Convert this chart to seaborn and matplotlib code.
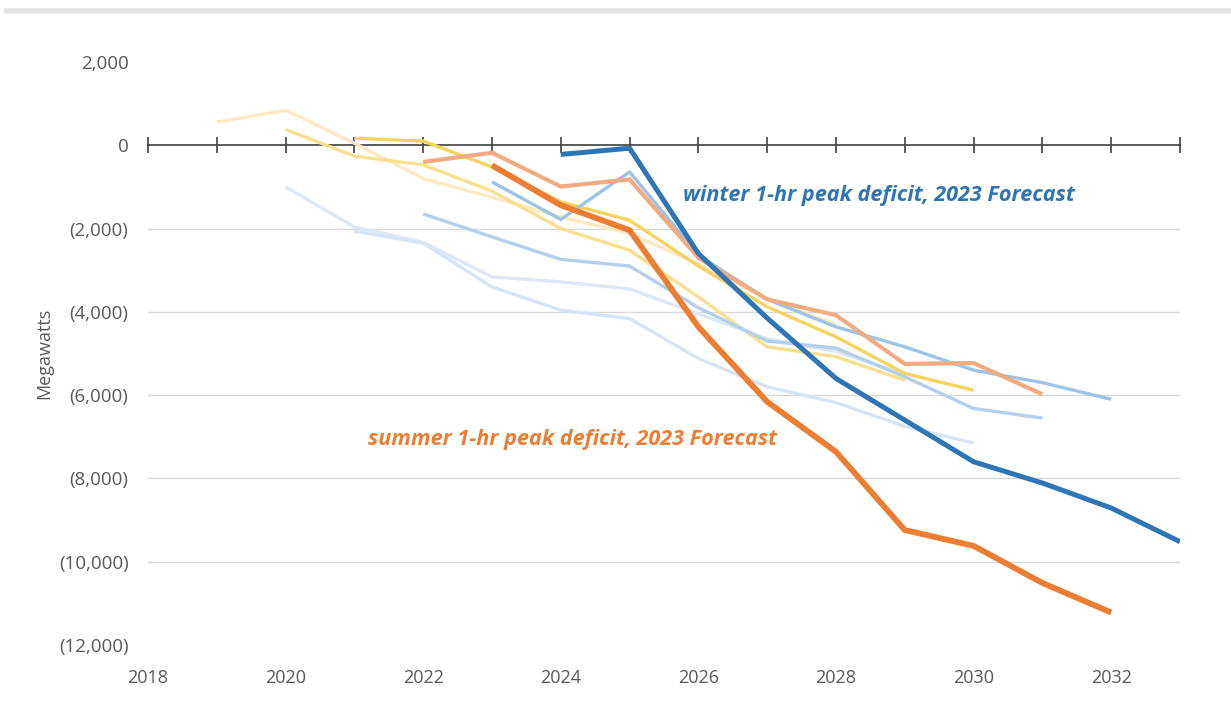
import matplotlib
matplotlib.use("Agg")
import matplotlib.pyplot as plt
import matplotlib.ticker as mticker
from matplotlib.lines import Line2D
import numpy as np
import pandas as pd
import seaborn as sns

# ---------------- data ----------------
years_s19 = [2019, 2020, 2021, 2022, 2023, 2024, 2025, 2026, 2027, 2028]
summer_2019 = [560, 840, 50, -800, -1250, -1720, -2120, -2850, -3700, -4300]

years_s20 = [2020, 2021, 2022, 2023, 2024, 2025, 2026, 2027, 2028, 2029]
summer_2020 = [380, -260, -470, -1100, -2000, -2520, -3640, -4840, -5080, -5640]

years_s21 = [2021, 2022, 2023, 2024, 2025, 2026, 2027, 2028, 2029, 2030]
summer_2021 = [170, 100, -520, -1360, -1800, -2900, -3880, -4600, -5480, -5880]

years_s22 = [2022, 2023, 2024, 2025, 2026, 2027, 2028, 2029, 2030, 2031]
summer_2022 = [-400, -180, -990, -820, -2700, -3700, -4080, -5250, -5230, -5980]

years_s23 = [2023, 2024, 2025, 2026, 2027, 2028, 2029, 2030, 2031, 2032]
summer_2023 = [-480, -1440, -2040, -4360, -6160, -7360, -9240, -9620, -10510, -11220]

years_w19 = [2020, 2021, 2022, 2023, 2024, 2025, 2026, 2027, 2028, 2029]
winter_2019 = [-1000, -1960, -2330, -3160, -3280, -3450, -4050, -4650, -4950, -5500]

years_w20 = [2021, 2022, 2023, 2024, 2025, 2026, 2027, 2028, 2029, 2030]
winter_2020 = [-2060, -2350, -3400, -3960, -4160, -5120, -5800, -6180, -6750, -7150]

years_w21 = [2022, 2023, 2024, 2025, 2026, 2027, 2028, 2029, 2030, 2031]
winter_2021 = [-1650, -2200, -2740, -2900, -3900, -4700, -4870, -5560, -6320, -6550]

years_w22 = [2023, 2024, 2025, 2026, 2027, 2028, 2029, 2030, 2031, 2032]
winter_2022 = [-880, -1780, -640, -2640, -3700, -4360, -4840, -5400, -5700, -6100]

years_w23 = [2024, 2025, 2026, 2027, 2028, 2029, 2030, 2031, 2032, 2033]
winter_2023 = [-220, -70, -2600, -4150, -5600, -6600, -7600, -8110, -8710, -9520]

series = [
    ("Summer 2019", years_s19, summer_2019),
    ("Winter 2019", years_w19, winter_2019),
    ("Winter 2020", years_w20, winter_2020),
    ("Summer 2020", years_s20, summer_2020),
    ("Winter 2021", years_w21, winter_2021),
    ("Summer 2021", years_s21, summer_2021),
    ("Winter 2022", years_w22, winter_2022),
    ("Summer 2022", years_s22, summer_2022),
    ("Summer 2023", years_s23, summer_2023),
    ("Winter 2023", years_w23, winter_2023),
]

palette = {
    "Summer 2019": "#FCEAC0",
    "Summer 2020": "#F9E08F",
    "Summer 2021": "#F6D25E",
    "Summer 2022": "#F2AA80",
    "Summer 2023": "#ED7D31",
    "Winter 2019": "#DCE8F5",
    "Winter 2020": "#D6E4F3",
    "Winter 2021": "#B4CFEB",
    "Winter 2022": "#9DC3E6",
    "Winter 2023": "#2E75B6",
}
widths = {k: 2.4 for k in palette}
widths["Summer 2023"] = 4.2
widths["Winter 2023"] = 3.6
widths["Summer 2022"] = 3.0

winter_label = "winter 1-hr peak deficit, 2023 Forecast"
summer_label = "summer 1-hr peak deficit, 2023 Forecast"

frames = []
for name, yrs, vals in series:
    frames.append(pd.DataFrame({"year": yrs, "mw": vals, "series": name}))
df = pd.concat(frames, ignore_index=True)
order = [s[0] for s in series]

# ---------------- plot ----------------
sns.set_theme(style="white")
plt.rcParams["font.family"] = ["Open Sans", "DejaVu Sans"]

fig = plt.figure(figsize=(12.31, 7.09), dpi=100)
ax = fig.add_axes([148 / 1231, 1 - 645 / 709, (1180 - 148) / 1231, (645 - 62) / 709])

sns.lineplot(data=df, x="year", y="mw", hue="series", size="series",
             hue_order=order, size_order=order, palette=palette, sizes=widths,
             legend=False, sort=False, estimator=None, ax=ax,
             solid_capstyle="butt", solid_joinstyle="miter")

ax.set_xlim(2018, 2033)
ax.set_ylim(-12000, 2000)

yticks = list(range(-12000, 2001, 2000))
ax.set_yticks(yticks)
ax.yaxis.set_major_formatter(mticker.FuncFormatter(
    lambda v, p: f"({abs(int(v)):,})" if v < 0 else f"{int(v):,}"))
ax.tick_params(axis="y", left=False, length=0, pad=14, labelsize=13.5,
               labelcolor="#595959")
ax.grid(axis="y", color="#D9D9D9", linewidth=1.0)
ax.grid(axis="x", visible=False)
for gl, v in zip(ax.get_ygridlines(), yticks):
    if v in (2000, -12000, 0):
        gl.set_visible(False)
ax.set_axisbelow(True)

for sp in ["left", "right", "top"]:
    ax.spines[sp].set_visible(False)
ax.spines["bottom"].set_position(("data", 0))
ax.spines["bottom"].set_color("#404040")
ax.spines["bottom"].set_linewidth(1.2)
ax.spines["bottom"].set_zorder(1.5)
ax.set_xticks(range(2018, 2034))
ax.tick_params(axis="x", bottom=True, direction="inout", length=11, width=1.2,
               color="#404040", labelbottom=False)

sec = ax.secondary_xaxis(0.0)
sec.set_xticks(range(2018, 2033, 2))
sec.tick_params(bottom=True, length=0, pad=17, labelsize=13, labelcolor="#595959")
sec.spines["bottom"].set_visible(False)

ax.set_xlabel("")
ax.set_ylabel("Megawatts", fontsize=13, color="#595959", labelpad=4)

ax.text(2025.78, -1200, winter_label, color="#2E75B6", fontsize=15.6,
        fontweight="bold", fontstyle="italic", va="center", ha="left")
ax.text(2021.2, -7070, summer_label, color="#ED7D31", fontsize=15.6,
        fontweight="bold", fontstyle="italic", va="center", ha="left")

fig.add_artist(Line2D([0.005, 1.0], [1 - 11 / 709, 1 - 11 / 709], color="#E3E3E3",
                      linewidth=4, transform=fig.transFigure))

fig.savefig("out.png", dpi=100, facecolor="white")
